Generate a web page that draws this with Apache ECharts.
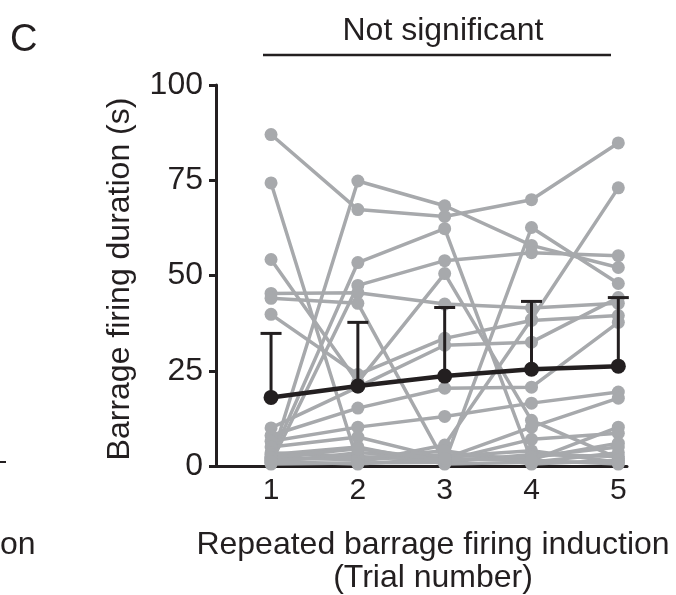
<!DOCTYPE html>
<html><head><meta charset="utf-8">
<script src="https://cdn.jsdelivr.net/npm/echarts@6/dist/echarts.min.js"></script>
<style>html,body{margin:0;padding:0;background:#fff}#c{width:676px;height:595px}</style>
</head><body><div id="c"></div>
<script>
// Data
const trials = [1, 2, 3, 4, 5];
const yTicks = [0, 25, 50, 75, 100];
const cells = [
  [87.0, 67.3, 65.5, 69.9, 84.8],
  [74.3, 1.0, 5.5, 38.5, 73.0],
  [1.5, 74.8, 68.3, 57.9, 52.1],
  [2.0, 53.4, 62.3, 1.5, 10.2],
  [0.8, 47.4, 53.9, 56.0, 55.2],
  [45.3, 45.5, 42.5, 41.5, 42.7],
  [44.0, 42.7, 1.0, 62.6, 47.9],
  [54.2, 22.0, 50.5, 12.0, 2.0],
  [39.8, 24.0, 33.5, 38.2, 39.5],
  [10.0, 20.7, 31.7, 32.5, 44.2],
  [8.0, 15.2, 20.4, 20.7, 37.7],
  [6.5, 10.2, 13.0, 16.5, 19.4],
  [5.0, 7.6, 2.0, 10.2, 17.8],
  [3.5, 2.5, 1.5, 7.0, 8.6],
  [2.5, 1.5, 3.0, 2.0, 6.0],
  [1.0, 3.5, 2.5, 4.0, 1.0],
  [0.5, 0.8, 1.0, 3.0, 2.5],
  [3.0, 5.0, 0.5, 1.0, 3.5],
  [1.8, 2.0, 4.0, 0.5, 1.5],
  [2.2, 4.5, 1.5, 2.5, 5.0],
  [1.2, 0.5, 2.0, 1.5, 0.5]
];
const meanVals = [18.0, 21.0, 23.6, 25.4, 26.2];
const errTop = [34.8, 37.7, 41.6, 43.2, 44.2];

const FONT = '"Liberation Sans", Arial, sans-serif';
const INK = '#231f20';
const GREY = '#a7a9ac';

const series = cells.map((vals, i) => ({
  type: 'line',
  name: 'cell' + (i + 1),
  data: vals.map((v, j) => [trials[j], v]),
  symbol: 'circle',
  symbolSize: 13,
  lineStyle: { color: GREY, width: 3.5 },
  itemStyle: { color: GREY },
  z: 2,
  silent: true,
  animation: false
}));

series.push({
  type: 'custom',
  name: 'sd',
  data: errTop.map((v, j) => [trials[j], meanVals[j], v]),
  renderItem: function (params, api) {
    const b = api.coord([api.value(0), api.value(1)]);
    const t = api.coord([api.value(0), api.value(2)]);
    const hw = 10.5;
    return {
      type: 'group',
      children: [
        { type: 'line', shape: { x1: b[0], y1: b[1], x2: t[0], y2: t[1] }, style: { stroke: INK, lineWidth: 3 } },
        { type: 'line', shape: { x1: t[0] - hw, y1: t[1], x2: t[0] + hw, y2: t[1] }, style: { stroke: INK, lineWidth: 3 } }
      ]
    };
  },
  z: 4,
  animation: false
});

series.push({
  type: 'line',
  name: 'mean',
  data: meanVals.map((v, j) => [trials[j], v]),
  symbol: 'circle',
  symbolSize: 15,
  lineStyle: { color: INK, width: 4.5 },
  itemStyle: { color: INK },
  z: 5,
  animation: false
});

const chart = echarts.init(document.getElementById('c'), null, { renderer: 'canvas' });
chart.setOption({
  animation: false,
  backgroundColor: '#fff',
  grid: { left: 216, right: 49, top: 85, bottom: 129 },
  xAxis: {
    type: 'value',
    min: 0.366, max: 5.1,
    axisLine: { show: true, lineStyle: { color: INK, width: 3 } },
    axisTick: { show: false },
    splitLine: { show: false },
    axisLabel: { customValues: trials, color: INK, fontSize: 30, fontFamily: FONT, margin: 10 }
  },
  yAxis: {
    type: 'value',
    min: 0, max: 100, interval: 25,
    axisLine: { show: true, lineStyle: { color: INK, width: 3 } },
    axisTick: { show: true, customValues: yTicks, length: 7, lineStyle: { color: INK, width: 3 } },
    splitLine: { show: false },
    axisLabel: { customValues: yTicks, color: INK, fontSize: 32, fontFamily: FONT, margin: 13 }
  },
  graphic: [
    { type: 'text', x: 10, y: 41, style: { text: 'C', font: '38px ' + FONT, fill: INK, align: 'left', verticalAlign: 'middle' } },
    { type: 'text', x: 443, y: 31, style: { text: 'Not significant', font: '32px ' + FONT, fill: INK, align: 'center', verticalAlign: 'middle' } },
    { type: 'line', shape: { x1: 263, y1: 55, x2: 611, y2: 55 }, style: { stroke: INK, lineWidth: 2.5 } },
    { type: 'text', x: 120, y: 279, rotation: Math.PI / 2, style: { text: 'Barrage firing duration (s)', font: '32px ' + FONT, fill: INK, align: 'center', verticalAlign: 'middle' } },
    { type: 'text', x: 433, y: 545, style: { text: 'Repeated barrage firing induction', font: '32px ' + FONT, fill: INK, align: 'center', verticalAlign: 'middle' } },
    { type: 'text', x: 433, y: 578, style: { text: '(Trial number)', font: '32px ' + FONT, fill: INK, align: 'center', verticalAlign: 'middle' } },
    { type: 'text', x: 0, y: 545, style: { text: 'on', font: '32px ' + FONT, fill: INK, align: 'left', verticalAlign: 'middle' } },
    { type: 'line', shape: { x1: 0, y1: 462, x2: 6, y2: 462 }, style: { stroke: INK, lineWidth: 2 } }
  ],
  series: series
});
</script>
</body></html>
